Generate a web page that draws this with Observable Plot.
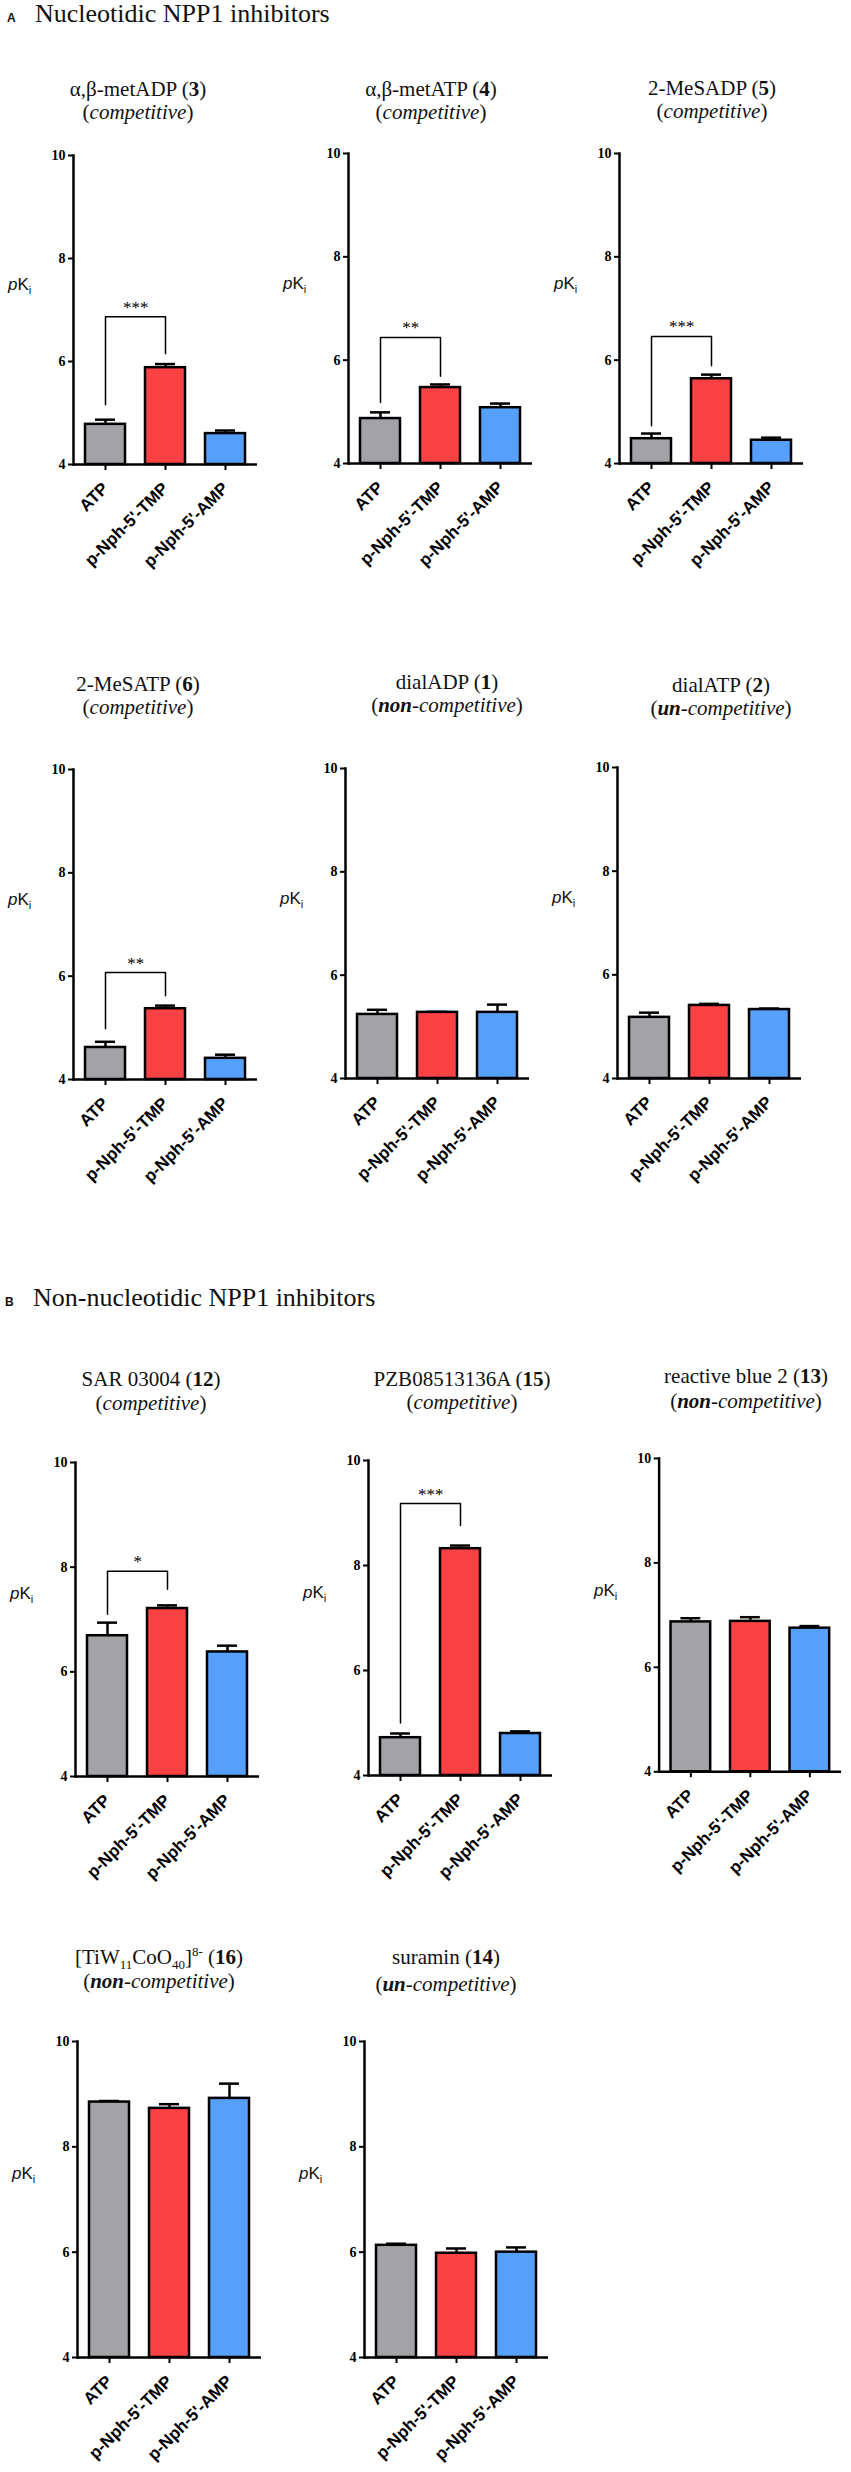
<!DOCTYPE html>
<html>
<head>
<meta charset="utf-8">
<script src="https://cdn.jsdelivr.net/npm/d3@7"></script>
<script src="https://cdn.jsdelivr.net/npm/@observablehq/plot@0.6"></script>
<style>
  body { margin: 0; background: #fff; }
  #page { position: relative; width: 851px; height: 2472px; overflow: hidden;
          font-family: "Liberation Serif", "Times New Roman", serif; color: #111; }
  .sec { position: absolute; font-size: 26px; line-height: 26px; white-space: nowrap; }
  .sec .lt { font-family: "Liberation Sans", Arial, sans-serif; font-weight: bold; font-size: 12px; display: inline-block; width: 28px; }
  .tline { position: absolute; font-size: 21px; line-height: 21px; white-space: nowrap; transform: translateX(-50%); }
  .tline sub, .tline sup { font-size: 13px; line-height: 0; }
  .ylab { position: absolute; font-family: "Liberation Sans", Arial, sans-serif; font-size: 17px; line-height: 17px; white-space: nowrap; }
  .ylab sub { font-size: 11px; line-height: 0; }
  .panel { position: absolute; }
  .panel svg { overflow: visible; }
</style>
</head>
<body>
<div id="page"></div>
<script>
// ---------- data ----------
const categories = ["ATP", "p-Nph-5'-TMP", "p-Nph-5'-AMP"];
const barColors = ["#a2a2a7", "#fa4143", "#57a0fa"];
const yTicks = [4, 6, 8, 10];

// section A
const metADP_mean = [4.78, 5.88, 4.60];  const metADP_sem = [0.09, 0.07, 0.06];
const metATP_mean = [4.87, 5.47, 5.08];  const metATP_sem = [0.12, 0.06, 0.08];
const meSADP_mean = [4.48, 5.64, 4.45];  const meSADP_sem = [0.10, 0.08, 0.05];
const meSATP_mean = [4.62, 5.37, 4.41];  const meSATP_sem = [0.11, 0.06, 0.07];
const dialADP_mean = [5.24, 5.28, 5.28]; const dialADP_sem = [0.09, 0.01, 0.15];
const dialATP_mean = [5.18, 5.41, 5.33]; const dialATP_sem = [0.09, 0.03, 0.02];
// section B
const sar_mean = [6.69, 7.21, 6.38];     const sar_sem = [0.25, 0.06, 0.12];
const pzb_mean = [4.72, 8.32, 4.80];     const pzb_sem = [0.08, 0.06, 0.04];
const rb2_mean = [6.87, 6.88, 6.75];     const rb2_sem = [0.07, 0.08, 0.04];
const pom_mean = [8.85, 8.73, 8.92];     const pom_sem = [0.02, 0.08, 0.28];
const sur_mean = [6.13, 5.98, 6.00];     const sur_sem = [0.03, 0.09, 0.09];

// significance brackets: [left leg end, bracket top, right leg end], label
const metADP_sig = {legs: [5.16, 6.87, 6.15], label: "***"};
const metATP_sig = {legs: [5.18, 6.44, 5.69], label: "**"};
const meSADP_sig = {legs: [4.73, 6.46, 5.89], label: "***"};
const meSATP_sig = {legs: [4.98, 6.07, 5.62], label: "**"};
const sar_sig    = {legs: [7.10, 7.92, 7.58], label: "*"};
const pzb_sig    = {legs: [5.00, 9.18, 8.76], label: "***"};

const titleLine1 = [
  `α,β-metADP (<b>3</b>)`,
  `α,β-metATP (<b>4</b>)`,
  `2-MeSADP (<b>5</b>)`,
  `2-MeSATP (<b>6</b>)`,
  `dialADP (<b>1</b>)`,
  `dialATP (<b>2</b>)`,
  `SAR 03004 (<b>12</b>)`,
  `PZB08513136A (<b>15</b>)`,
  `reactive blue 2 (<b>13</b>)`,
  `[TiW<sub>11</sub>CoO<sub>40</sub>]<sup>8-</sup> (<b>16</b>)`,
  `suramin (<b>14</b>)`
];
const titleLine2 = [
  `(<i>competitive</i>)`,
  `(<i>competitive</i>)`,
  `(<i>competitive</i>)`,
  `(<i>competitive</i>)`,
  `(<b><i>non</i></b><i>-competitive</i>)`,
  `(<b><i>un</i></b><i>-competitive</i>)`,
  `(<i>competitive</i>)`,
  `(<i>competitive</i>)`,
  `(<b><i>non</i></b><i>-competitive</i>)`,
  `(<b><i>non</i></b><i>-competitive</i>)`,
  `(<b><i>un</i></b><i>-competitive</i>)`
];
const panelData = [
  [metADP_mean, metADP_sem, metADP_sig],
  [metATP_mean, metATP_sem, metATP_sig],
  [meSADP_mean, meSADP_sem, meSADP_sig],
  [meSATP_mean, meSATP_sem, meSATP_sig],
  [dialADP_mean, dialADP_sem, null],
  [dialATP_mean, dialATP_sem, null],
  [sar_mean, sar_sem, sar_sig],
  [pzb_mean, pzb_sem, pzb_sig],
  [rb2_mean, rb2_sem, null],
  [pom_mean, pom_sem, null],
  [sur_mean, sur_sem, null]
];
const sections = [
  {letter: "A", text: "Nucleotidic NPP1 inhibitors"},
  {letter: "B", text: "Non-nucleotidic NPP1 inhibitors"}
];

// ---------- layout (pixels) ----------
const sectionPos = [{x: 7, base: 23}, {x: 5, base: 1307}];
// ax: y-axis x, y10: pixel of value 10, h: plot height, tx: title centre,
// b1/b2: baselines of the two title lines
const layout = [
  {ax: 73,  y10: 155,  h: 309, tx: 138, b1: 97,   b2: 120},
  {ax: 348, y10: 153,  h: 310, tx: 431, b1: 97,   b2: 120},
  {ax: 619, y10: 153,  h: 310, tx: 712, b1: 96,   b2: 119},
  {ax: 73,  y10: 769,  h: 310, tx: 138, b1: 692,  b2: 715},
  {ax: 345, y10: 768,  h: 310, tx: 447, b1: 690,  b2: 713},
  {ax: 617, y10: 767,  h: 311, tx: 721, b1: 693,  b2: 716},
  {ax: 75,  y10: 1462, h: 314, tx: 151, b1: 1387, b2: 1411},
  {ax: 368, y10: 1460, h: 315, tx: 462, b1: 1387, b2: 1410},
  {ax: 659, y10: 1458, h: 316, tx: 746, b1: 1384, b2: 1409},
  {ax: 77,  y10: 2041, h: 316, tx: 159, b1: 1965, b2: 1989},
  {ax: 364, y10: 2041, h: 316, tx: 446, b1: 1965, b2: 1992}
];

const page = document.getElementById("page");
const serif = "Liberation Serif, Times New Roman, serif";
const sans = "Liberation Sans, Arial, sans-serif";

sections.forEach((s, i) => {
  const d = document.createElement("div");
  d.className = "sec";
  d.style.left = sectionPos[i].x + "px";
  d.style.top = (sectionPos[i].base - 22) + "px";
  d.innerHTML = `<span class="lt">${s.letter}</span>${s.text}`;
  page.appendChild(d);
});

function addLine(html, cx, base) {
  const t = document.createElement("div");
  t.className = "tline";
  t.innerHTML = html;
  t.style.left = cx + "px";
  // baseline of 21px Liberation Serif with 21px line box sits ~17.6px below the top
  t.style.top = (base - 17.6) + "px";
  page.appendChild(t);
}

const mL = 45, mR = 10, mT = 8, mB = 125, innerW = 184;
const padIn = 0.33, padOut = 0.18;
const step = d3.scaleBand().domain(categories).range([0, innerW]).paddingInner(padIn).paddingOuter(padOut).step();

panelData.forEach(([mean, sem, sig], i) => {
  const L = layout[i];
  const rows = categories.map((c, j) => ({cat: c, mean: mean[j], top: mean[j] + sem[j]}));
  const marks = [
    Plot.ruleX(rows, {x: "cat", y1: "mean", y2: "top", stroke: "#000", strokeWidth: 2.5}),
    Plot.tickY(rows, {x: "cat", y: "top", stroke: "#000", strokeWidth: 2.5, insetLeft: 10, insetRight: 10}),
    Plot.barY(rows, {x: "cat", y1: 4, y2: "mean", fill: "cat", stroke: "#000", strokeWidth: 2.5}),
    Plot.ruleY([4], {stroke: "#000", strokeWidth: 2.5}),
    Plot.frame({anchor: "left", stroke: "#000", strokeWidth: 2.5}),
    Plot.axisY({ticks: yTicks, tickFormat: d => String(d), tickSize: 5, tickPadding: 3, strokeWidth: 2, label: null,
                fontSize: 14, fontWeight: "bold", fontFamily: serif}),
    Plot.axisX({tickSize: 6, tickPadding: 15, tickRotate: -45, strokeWidth: 2, label: null,
                fontSize: 17, fontWeight: "bold", fontFamily: sans})
  ];
  if (sig) {
    const pts = [
      {cat: categories[0], y: sig.legs[0]},
      {cat: categories[0], y: sig.legs[1]},
      {cat: categories[1], y: sig.legs[1]},
      {cat: categories[1], y: sig.legs[2]}
    ];
    marks.push(Plot.line(pts, {x: "cat", y: "y", stroke: "#000", strokeWidth: 1.5}));
    marks.push(Plot.text([sig], {x: () => categories[0], y: d => d.legs[1], text: "label",
      dx: step / 2, dy: -4, lineAnchor: "bottom", fontSize: 17, fontFamily: serif, fill: "#000"}));
  }
  const chart = Plot.plot({
    width: mL + innerW + mR,
    height: mT + L.h + mB,
    marginLeft: mL, marginRight: mR, marginTop: mT, marginBottom: mB,
    style: {background: "transparent", color: "#000", overflow: "visible"},
    x: {domain: categories, paddingInner: padIn, paddingOuter: padOut, axis: null},
    y: {domain: [4, 10], axis: null},
    color: {domain: categories, range: barColors},
    marks
  });
  const wrap = document.createElement("div");
  wrap.className = "panel";
  wrap.style.left = (L.ax - mL) + "px";
  wrap.style.top = (L.y10 - mT) + "px";
  wrap.appendChild(chart);
  page.appendChild(wrap);

  const yl = document.createElement("div");
  yl.className = "ylab";
  yl.innerHTML = `<i>p</i>K<sub>i</sub>`;
  yl.style.left = (L.ax - 65) + "px";
  yl.style.top = (L.y10 - mT + chart.scale("y").apply(7.45) - 10) + "px";
  page.appendChild(yl);

  addLine(titleLine1[i], L.tx, L.b1);
  addLine(titleLine2[i], L.tx, L.b2);
});
</script>
</body>
</html>
